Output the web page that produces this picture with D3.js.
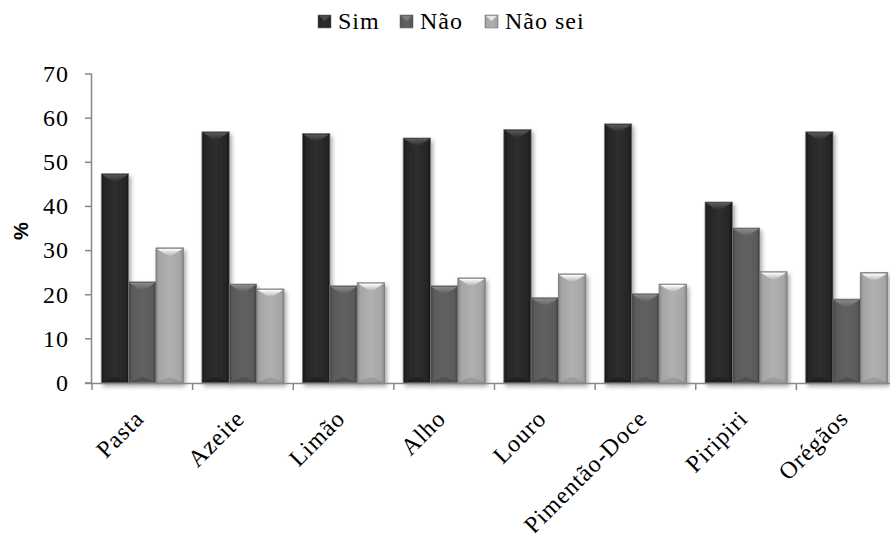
<!DOCTYPE html>
<html><head><meta charset="utf-8">
<script src="https://cdn.jsdelivr.net/npm/d3@7"></script>
<style>body{margin:0;background:#fff}svg{display:block}
.serif{font-family:"Liberation Serif","Times New Roman",serif;letter-spacing:1px;}
</style>
</head><body>
<svg id="c" width="890" height="533"></svg>
<script>
const categories = ["Pasta","Azeite","Limão","Alho","Louro","Pimentão-Doce","Piripiri","Orégãos"];
const seriesNames = ["Sim","Não","Não sei"];
const sim    = [47.4, 56.9, 56.5, 55.5, 57.4, 58.7, 41.0, 56.9];
const nao    = [22.9, 22.4, 22.0, 22.0, 19.3, 20.2, 35.1, 19.0];
const naoSei = [30.6, 21.3, 22.7, 23.8, 24.7, 22.4, 25.2, 25.0];
const yTicks = [0,10,20,30,40,50,60,70];

const seriesValues = [sim, nao, naoSei];
const colors = [
  {body:"#262626", edge:"#141414", mid:"#2e2e2e", cap:"#595959"},
  {body:"#5a5a5a", edge:"#404040", mid:"#616161", cap:"#8a8a8a"},
  {body:"#a6a6a6", edge:"#8a8a8a", mid:"#b0b0b0", cap:"#ffffff"}
];

const svg = d3.select("#c");
const mLeft = 92, mRight = 897, mTop = 74, mBottom = 383;

const x = d3.scaleBand().domain(categories).range([mLeft, mRight]).paddingInner(0.185).paddingOuter(0.0925);
const xs = d3.scaleBand().domain(seriesNames).range([0, x.bandwidth()]).padding(0);
const y = d3.scaleLinear().domain([0,70]).range([mBottom, mTop]);

const defs = svg.append("defs");
colors.forEach((c,i)=>{
  const g = defs.append("linearGradient").attr("id","g"+i).attr("x1","0").attr("x2","1").attr("y1","0").attr("y2","0");
  g.append("stop").attr("offset","0").attr("stop-color",c.edge);
  g.append("stop").attr("offset","0.12").attr("stop-color",c.body);
  g.append("stop").attr("offset","0.5").attr("stop-color",c.mid);
  g.append("stop").attr("offset","0.88").attr("stop-color",c.body);
  g.append("stop").attr("offset","1").attr("stop-color",c.edge);
  const cg = defs.append("linearGradient").attr("id","cg"+i).attr("x1","0").attr("x2","0").attr("y1","0").attr("y2","1");
  cg.append("stop").attr("offset","0").attr("stop-color",c.cap);
  cg.append("stop").attr("offset","1").attr("stop-color",c.body);
});
const f = defs.append("filter").attr("id","sh").attr("x","-20%").attr("y","-10%").attr("width","150%").attr("height","130%");
f.append("feDropShadow").attr("dx",2).attr("dy",3).attr("stdDeviation",2).attr("flood-color","#000").attr("flood-opacity",0.35);

// Bars
seriesNames.forEach((s,si)=>{
  const g = svg.append("g");
  categories.forEach((cat,ci)=>{
    const v = seriesValues[si][ci];
    const bx = x(cat) + xs(s), bw = xs.bandwidth(), by = y(v), bh = y(0) - y(v);
    const bg = g.append("g");
    bg.append("rect").attr("x",bx).attr("y",by).attr("width",bw).attr("height",bh)
      .attr("fill","url(#g"+si+")").attr("stroke","#777").attr("stroke-width",0.8).attr("filter","url(#sh)");
    const capH = Math.min(9, bh/2);
    bg.append("path").attr("d",`M${bx+1},${by+1}L${bx+bw-1},${by+1}L${bx+bw/2},${by+capH}Z`)
      .attr("fill","url(#cg"+si+")");
    bg.append("path").attr("d",`M${bx+1},${y(0)-1}L${bx+bw-1},${y(0)-1}L${bx+bw/2},${y(0)-6}Z`)
      .attr("fill",colors[si].edge).attr("opacity",0.5);
  });
});

// Y axis
const axisColor = "#888";
svg.append("line").attr("x1",mLeft-0.5).attr("x2",mLeft-0.5).attr("y1",mTop).attr("y2",mBottom).attr("stroke",axisColor).attr("stroke-width",1.5);
const yt = svg.append("g");
yTicks.forEach(t=>{
  yt.append("line").attr("x1",mLeft-7).attr("x2",mLeft).attr("y1",y(t)).attr("y2",y(t)).attr("stroke",axisColor).attr("stroke-width",1.5);
  yt.append("text").attr("class","serif").attr("x",mLeft-23).attr("y",y(t)).attr("dy","0.33em").attr("text-anchor","end")
    .style("font-size","24px").attr("fill","#000").text(t);
});
// X axis
svg.append("line").attr("x1",mLeft-7).attr("x2",mRight).attr("y1",mBottom+0.5).attr("y2",mBottom+0.5).attr("stroke",axisColor).attr("stroke-width",1.5);
categories.forEach(cat=>{
  const tx = x(cat) + x.bandwidth()/2 - x.step()/2;
  svg.append("line").attr("x1",tx).attr("x2",tx).attr("y1",mBottom).attr("y2",mBottom+7).attr("stroke",axisColor).attr("stroke-width",1.5);
  const cx = x(cat) + x.bandwidth()/2;
  svg.append("text").attr("class","serif").attr("transform",`translate(${cx+3},${420}) rotate(-45)`).attr("text-anchor","end")
    .style("font-size","24px").attr("fill","#000").text(cat);
});

// Y label
svg.append("text").attr("transform","translate(28,231) rotate(-90)").attr("text-anchor","middle")
  .style("font-family","'Liberation Sans', Arial, sans-serif").attr("font-weight","bold").style("font-size","20px").text("%");

// Legend
const legX = [318, 400, 485];
seriesNames.forEach((s,i)=>{
  const lg = svg.append("g");
  lg.append("rect").attr("x",legX[i]).attr("y",15).attr("width",13).attr("height",13).attr("fill","url(#g"+i+")").attr("stroke","#777").attr("stroke-width",0.6);
  lg.append("path").attr("d",`M${legX[i]+1},${16}L${legX[i]+12},${16}L${legX[i]+6.5},${21}Z`).attr("fill",colors[i].cap).attr("opacity",0.7);
  lg.append("text").attr("class","serif").attr("x",legX[i]+20).attr("y",29)
    .style("font-size","24px").attr("fill","#000").text(s);
});
</script>
</body></html>
